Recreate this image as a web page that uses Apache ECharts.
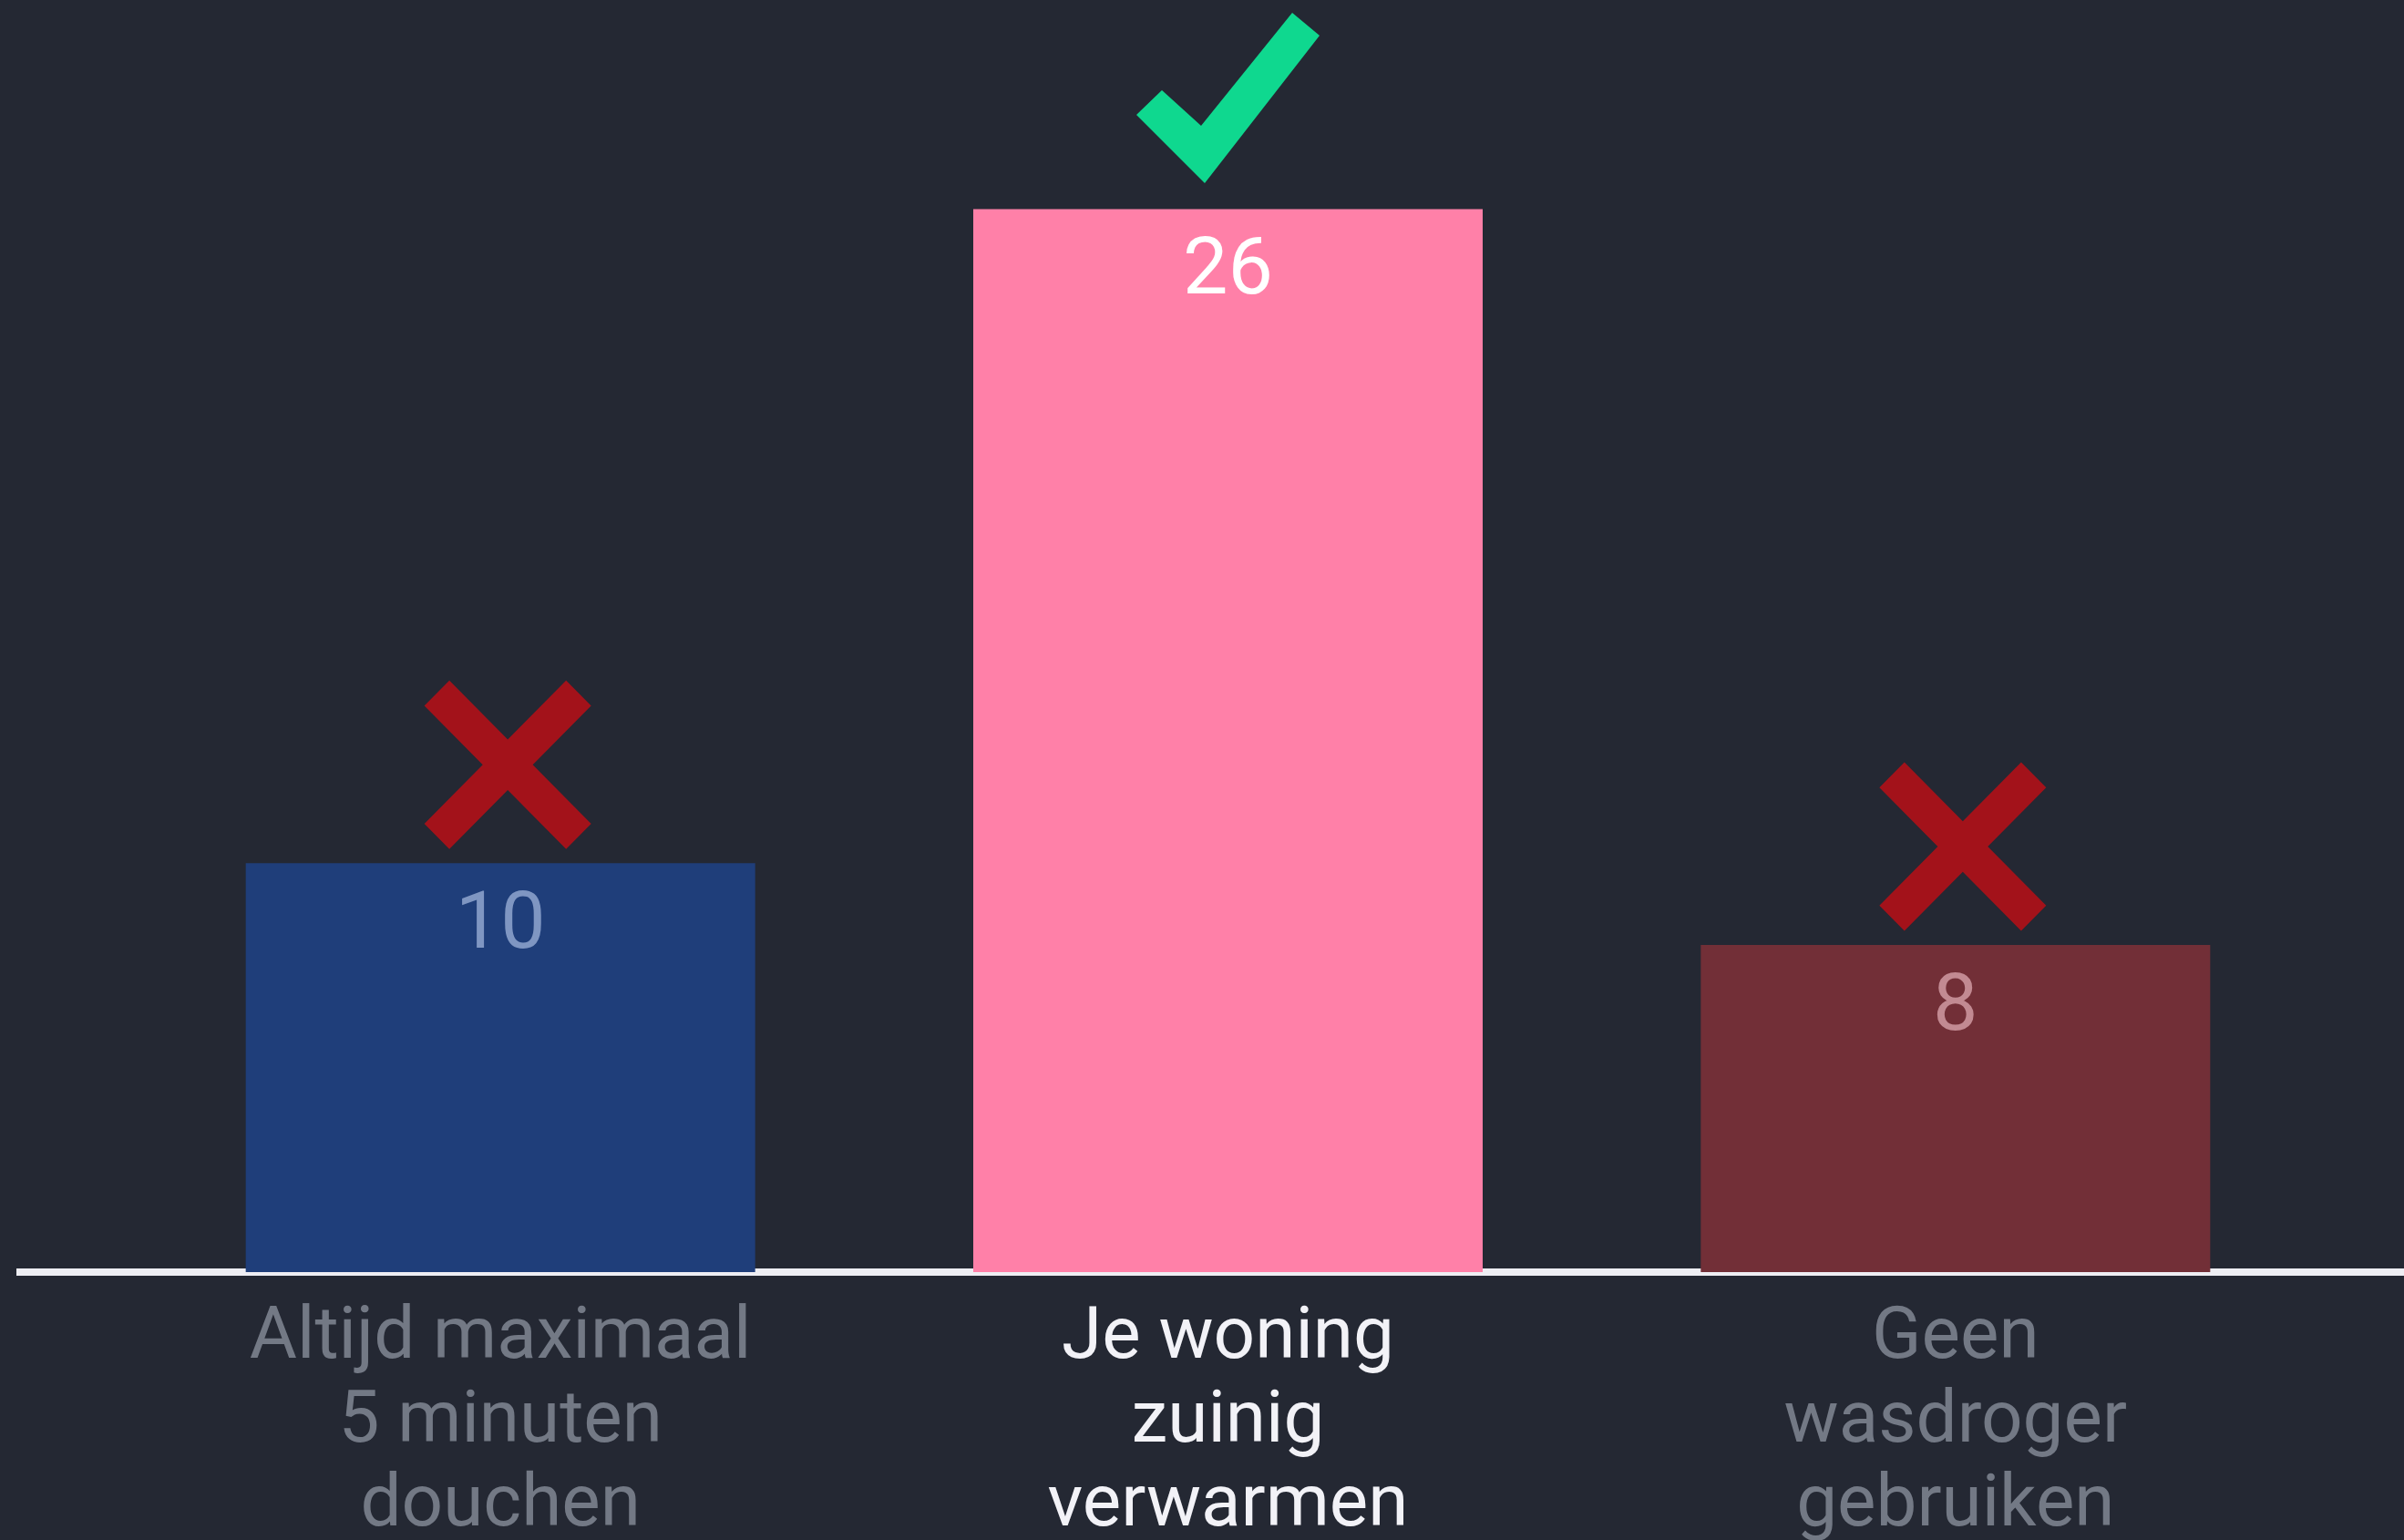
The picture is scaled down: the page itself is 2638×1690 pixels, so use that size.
<!DOCTYPE html>
<html>
<head>
<meta charset="utf-8">
<title>Besparen</title>
<script src="https://cdn.jsdelivr.net/npm/echarts@6/dist/echarts.min.js"></script>
<style>
	html, body { margin: 0; padding: 0; background: #242833; overflow: hidden; }
	#chart { width: 2638px; height: 1690px; }
</style>
</head>
<body>
<div id="chart"></div>
<script>
	// data
	var categories = ['Altijd maximaal\n5 minuten\ndouchen', 'Je woning\nzuinig\nverwarmen', 'Geen\nwasdroger\ngebruiken'];
	var values = [10, 26, 8];
	var goed = [false, true, false]; // juiste antwoord krijgt een vinkje

	var barColors = ['#1f3e7a', '#ff80a8', '#722f37'];
	var valueColors = ['#7f96c2', '#ffffff', '#c28a92'];
	var catColors = ['#737985', '#f2f2f7', '#737985'];

	var checkPath = 'path://M0 112 L28 85 L71 124 L171 0 L201 25 L75 187 Z';
	var crossPath = 'path://M0 15 L15 0 L50 35 L85 0 L100 15 L65 50 L100 85 L85 100 L50 65 L15 100 L0 85 L35 50 Z';

	var chart = echarts.init(document.getElementById('chart'), null, { renderer: 'canvas' });

	var fontFam = 'Roboto, "Noto Sans", sans-serif';

	var option = {
		backgroundColor: '#242833',
		animation: false,
		grid: [
			{ left: 150, right: 93, top: 50, bottom: 294, outerBoundsMode: 'none', containLabel: false },
			{ left: 18, right: 0, top: 50, bottom: 294, outerBoundsMode: 'none', containLabel: false } // alleen voor de basislijn
		],
		xAxis: [{
			type: 'category',
			gridIndex: 0,
			data: categories.map(function (c, i) {
				return { value: c, textStyle: { color: catColors[i] } };
			}),
			axisLine: { show: false },
			axisTick: { show: false },
			axisLabel: {
				fontFamily: fontFam,
				fontSize: 80,
				lineHeight: 92,
				margin: 28,
				interval: 0
			}
		}, {
			type: 'value',
			gridIndex: 1,
			min: 0,
			max: 1,
			axisLine: { show: true, onZero: false, lineStyle: { color: '#eeeef3', width: 8, cap: 'butt' } },
			axisTick: { show: false },
			axisLabel: { show: false },
			splitLine: { show: false }
		}],
		yAxis: [{
			type: 'value',
			gridIndex: 0,
			min: 0,
			max: 30,
			show: false
		}, {
			type: 'value',
			gridIndex: 1,
			min: 0,
			max: 1,
			show: false
		}],
		series: [{
			type: 'bar',
			xAxisIndex: 0,
			yAxisIndex: 0,
			barWidth: 559,
			data: values.map(function (v, i) {
				return {
					value: v,
					itemStyle: { color: barColors[i] },
					label: { color: valueColors[i] }
				};
			}),
			label: {
				show: true,
				position: 'insideTop',
				distance: 27,
				fontFamily: fontFam,
				fontSize: 88
			}
		}, {
			type: 'scatter',
			xAxisIndex: 0,
			yAxisIndex: 0,
			z: 5,
			data: values.map(function (v, i) {
				if (goed[i]) {
					return {
						value: v,
						symbol: checkPath,
						symbolSize: [201, 187],
						symbolOffset: [0, -122],
						itemStyle: { color: '#0fd88f', opacity: 1 }
					};
				}
				return {
					value: v,
					symbol: crossPath,
					symbolSize: [183, 185],
					symbolOffset: [8, -108],
					itemStyle: { color: '#a3121a', opacity: 1 }
				};
			})
		}]
	};

	chart.setOption(option);
</script>
</body>
</html>
